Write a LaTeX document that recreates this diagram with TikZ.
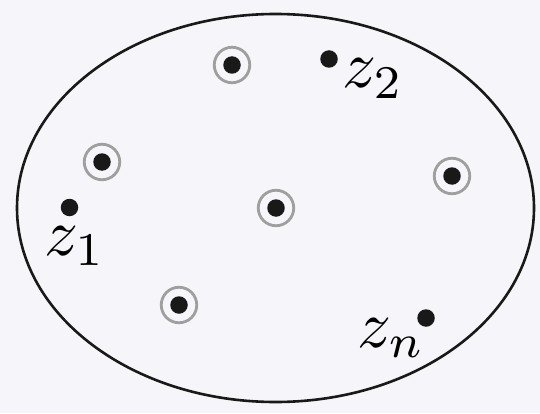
\documentclass[tikz,border=0pt]{standalone}
\usetikzlibrary{shapes.geometric}
\begin{document}
\begin{tikzpicture}[x=1pt,y=1pt,
  dotnode/.style={circle,fill=black!90,inner sep=0pt,minimum size=17.5pt},
  ringnode/.style={circle,draw=gray!75,line width=2.8pt,inner sep=0pt,minimum size=35.5pt},
  labelnode/.style={scale=6.7,inner sep=0pt,anchor=base west}]
\fill[fill={rgb,255:red,245;green,245;blue,250}] (0,0) rectangle (540,413);
\useasboundingbox (0,0) rectangle (540,413);
\node[ellipse,draw=black!90,line width=2.6pt,minimum width=517pt,minimum height=388pt,inner sep=0pt] (region) at (275.5,205) {};
% circled points
\node[ringnode] (ra) at (232,348) {};
\node[dotnode] (da) at (232,348) {};
\node[ringnode] (rb) at (102,251) {};
\node[dotnode] (db) at (102,251) {};
\node[ringnode] (rc) at (276,205) {};
\node[dotnode] (dc) at (276,205) {};
\node[ringnode] (rd) at (452,237) {};
\node[dotnode] (dd) at (452,237) {};
\node[ringnode] (re) at (179,108) {};
\node[dotnode] (de) at (179,108) {};
% labelled points
\node[dotnode] (z1) at (69.5,205.5) {};
\node[dotnode] (z2) at (329,354) {};
\node[dotnode] (zn) at (426,95) {};
\node[labelnode] (l1) at (43,158) {$z_1$};
\node[labelnode] (l2) at (341,325) {$z_2$};
\node[labelnode] (ln) at (356,66) {$z_n$};
\end{tikzpicture}
\end{document}
